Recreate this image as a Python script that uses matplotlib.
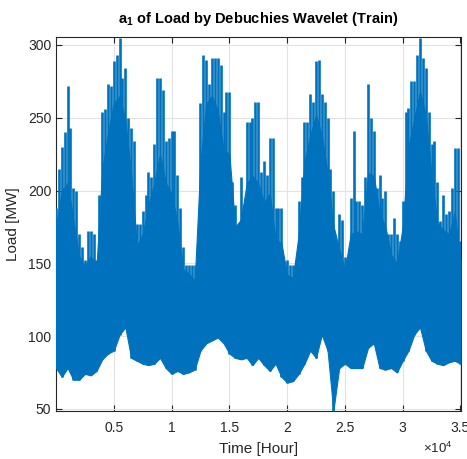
import numpy as np
import matplotlib
matplotlib.use("Agg")
import matplotlib.pyplot as plt

plt.rcParams['font.family'] = ['Liberation Sans', 'DejaVu Sans']
plt.rcParams['mathtext.fontset'] = 'custom'
plt.rcParams['mathtext.rm'] = 'Liberation Sans'
plt.rcParams['mathtext.bf'] = 'Liberation Sans:bold'

# hours, sampled every 500 h
hours = np.arange(0, 35001, 500)
# hours half way between
hours_mid = np.arange(250, 35000, 500)

# highest spike near each sample hour [MW]
peak = [188, 230, 272, 202, 170, 152, 172, 152, 254, 273, 289, 305,
        284, 243, 177, 186, 213, 232, 277, 234, 241, 211, 161, 149,
        149, 260, 290, 291, 291, 254, 268, 190, 209, 247, 250, 261,
        220, 236, 188, 188, 152, 149, 193, 247, 266, 289, 266, 250,
        200, 184, 154, 195, 193, 190, 273, 241, 211, 200, 170,
        170, 193, 257, 275, 305, 284, 232, 206, 197, 186, 229, 165]

# highest spike near each half-way hour [MW]
peak_mid = [215, 240, 243, 200, 161, 172, 170, 197, 256, 272, 293, 277,
            250, 234, 177, 197, 209, 277, 269, 236, 241, 188, 149, 149,
            147, 293, 273, 291, 286, 268, 206, 170, 190, 247, 261,
            213, 211, 236, 188, 149, 149, 152, 209, 247, 261, 290, 261,
            215, 158, 180, 152, 241, 193, 209, 250, 202, 195, 170,
            181, 165, 254, 275, 293, 291, 254, 234, 179, 184, 202, 229]

# top of the dense (solid) band [MW]
core_hi = [175, 200, 205, 180, 155, 148, 155, 148, 215, 240, 260, 265,
           248, 212, 162, 170, 190, 205, 225, 205, 198, 178, 146, 143,
           138, 220, 260, 265, 255, 228, 225, 175, 180, 205, 210, 205,
           192, 198, 166, 164, 142, 140, 170, 220, 238, 252, 238, 212,
           176, 160, 146, 170, 172, 170, 212, 210, 185, 175, 156,
           150, 175, 230, 250, 268, 252, 210, 178, 173, 170, 185, 152]

# lowest value near each sample hour [MW]
trough = [78, 72, 78, 70, 70, 74, 73, 76, 84, 88, 90, 101,
          106, 85, 83, 81, 80, 81, 85, 78, 74, 76, 74, 75,
          77, 90, 95, 97, 99, 95, 88, 85, 84, 85, 80, 85,
          80, 76, 81, 72, 68, 69, 74, 81, 90, 85, 101, 90,
          48.5, 78, 81, 78, 78, 78, 92, 95, 78, 77, 78,
          75, 83, 90, 101, 106, 90, 83, 81, 80, 82, 83, 81]

xticks = [5000, 10000, 15000, 20000, 25000, 30000, 35000]
xticklabels = ['0.5', '1', '1.5', '2', '2.5', '3', '3.5']
yticks = [50, 100, 150, 200, 250, 300]

blue = '#0072BD'

fig = plt.figure(figsize=(4.67, 4.59), dpi=100)
ax = fig.add_axes([0.12, 0.1046, 0.867, 0.8148])

ax.fill_between(hours, trough, core_hi, color=blue, lw=0.8, zorder=3)
ax.vlines(hours, trough, peak, color=blue, lw=1.9, zorder=3)
ax.vlines(hours_mid, 120, peak_mid, color=blue, lw=1.9, zorder=3)

ax.set_xlim(0, 35040)
ax.set_ylim(48.5, 305.5)
ax.set_xticks(xticks)
ax.set_xticklabels(xticklabels)
ax.set_yticks(yticks)
ax.tick_params(direction='in', top=True, right=True, labelsize=10, length=4,
               width=0.8, colors='#262626')
ax.tick_params(axis='x', pad=7)
ax.grid(True, color='#e3e3e3', lw=0.8, zorder=0)
ax.set_axisbelow(True)
for s in ax.spines.values():
    s.set_color('#262626')
    s.set_linewidth(0.8)

ax.set_xlabel('Time [Hour]', fontsize=11, color='#262626', labelpad=5)
ax.set_ylabel('Load [MW]', fontsize=11, color='#262626')
ax.yaxis.set_label_coords(-0.09, 0.5)
ax.set_title(r'$\mathbf{a_1}$ of Load by Debuchies Wavelet (Train)',
             fontsize=10.5, fontweight='bold', pad=10)
ax.text(0.978, -0.1, r'$\times10^{4}$', transform=ax.transAxes, fontsize=9.5,
        color='#262626', ha='right', va='center')

fig.savefig('out.png', dpi=100)
